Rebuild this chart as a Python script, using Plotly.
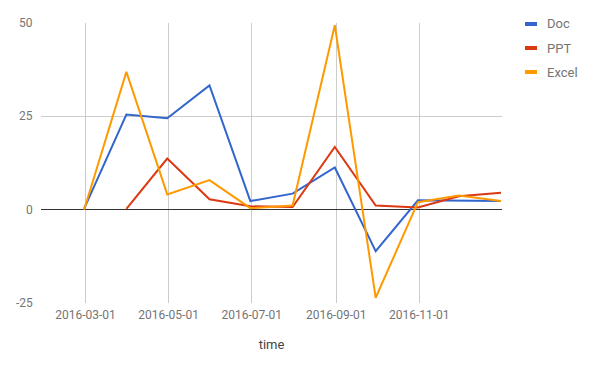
import plotly.graph_objects as go

dates = ["2016-02-29", "2016-03-31", "2016-04-30", "2016-05-31", "2016-06-30",
         "2016-07-31", "2016-08-31", "2016-09-30", "2016-10-31", "2016-11-30", "2016-12-31"]
doc = [0.3, 25.5, 24.5, 33.3, 2.3, 4.3, 11.3, -11.1, 2.5, 2.4, 2.3]
ppt = [None, 0.2, 13.7, 2.8, 0.9, 0.7, 16.8, 1.1, 0.6, 3.6, 4.5]
excel = [0.0, 36.9, 4.1, 7.9, 0.4, 1.1, 49.4, -23.6, 2.0, 3.8, 2.3]

series_names = ["Doc", "PPT", "Excel"]
colors = ["#3366cc", "#dc3912", "#ff9900"]

x_tickvals = ["2016-03-01", "2016-05-01", "2016-07-01", "2016-09-01", "2016-11-01"]
x_ticktext = ["2016-03-01", "2016-05-01", "2016-07-01", "2016-09-01", "2016-11-01"]
y_tickvals = [-25, 0, 25, 50]
y_ticktext = ["-25", "0", "25", "50"]

FONT = "Roboto, Arial, sans-serif"

fig = go.Figure()
for name, vals, col in zip(series_names, [doc, ppt, excel], colors):
    fig.add_trace(go.Scatter(x=dates, y=vals, mode="lines", name=name,
                             line=dict(color=col, width=2), connectgaps=False,
                             showlegend=False))

# y tick labels, right-aligned just left of the plot area
for v, t in zip(y_tickvals, y_ticktext):
    fig.add_annotation(text=t, xref="paper", yref="y", x=-6 / 461, y=v,
                       xanchor="right", yanchor="middle", showarrow=False,
                       font=dict(family=FONT, size=12, color="#757575"))

# manual legend (Google Charts style)
for i, (name, col) in enumerate(zip(series_names, colors)):
    ypix = 24 + 24 * i
    yp = 1 - (ypix - 23) / 280
    fig.add_shape(type="line", xref="paper", yref="paper",
                  x0=(525 - 41) / 461, x1=(537 - 41) / 461, y0=yp, y1=yp,
                  line=dict(color=col, width=4))
    fig.add_annotation(text=name, xref="paper", yref="paper",
                       x=(545 - 41) / 461, y=yp, xanchor="left", yanchor="middle",
                       showarrow=False, font=dict(family=FONT, size=13, color="#757575"))

fig.update_layout(
    width=593, height=369,
    margin=dict(l=41, r=91, t=23, b=66),
    paper_bgcolor="white", plot_bgcolor="white",
    font=dict(family=FONT, size=12, color="#757575"),
    showlegend=False,
)
fig.update_xaxes(
    type="date",
    range=["2016-01-28 08:00", "2016-12-31 17:00"],
    tickvals=x_tickvals, ticktext=x_ticktext,
    showgrid=True, gridcolor="#cccccc", gridwidth=1,
    showline=False, zeroline=False, ticks="", ticklen=0,
    ticklabelstandoff=3,
    tickfont=dict(family=FONT, size=12, color="#757575"),
    title=dict(text="time", font=dict(family=FONT, size=13, color="#444444"), standoff=18),
)
fig.update_yaxes(
    range=[-25, 50], tickvals=y_tickvals,
    showgrid=True, gridcolor="#cccccc", gridwidth=1,
    zeroline=True, zerolinecolor="#333333", zerolinewidth=1,
    showline=False, ticks="", ticklen=0, automargin=False,
    showticklabels=False,
)

fig.write_html("out.html", config={"displayModeBar": False},
               post_script="document.body.style.margin='0';document.body.style.padding='0';")
